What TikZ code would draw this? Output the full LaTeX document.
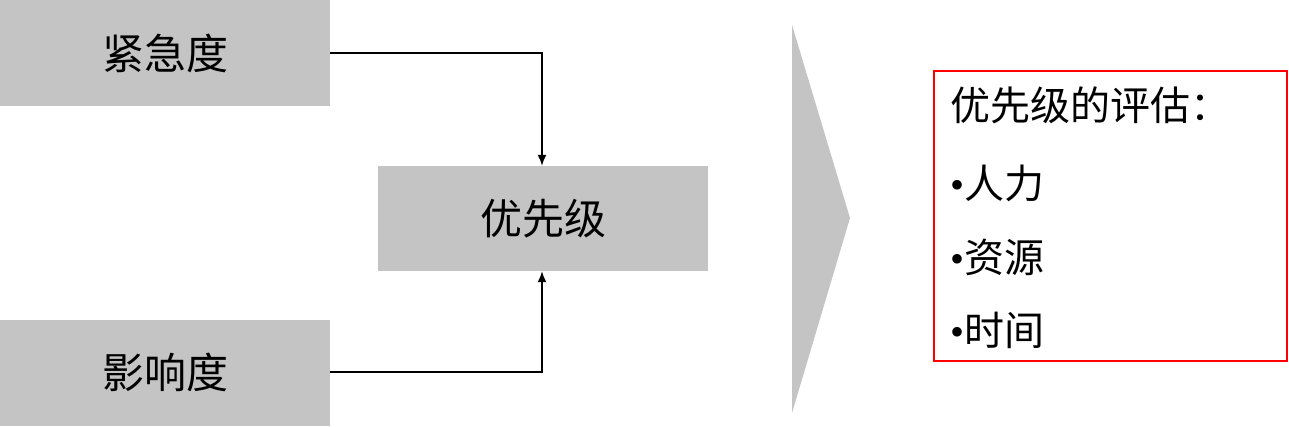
\documentclass[tikz,border=0pt]{standalone}
\usepackage{fontspec}
\setmainfont{Liberation Serif}
\newfontfamily\cjk{Noto Sans CJK SC}
\usetikzlibrary{arrows.meta}
\definecolor{boxgray}{RGB}{196,196,196}
\tikzset{
  graybox/.style={fill=boxgray, draw=none, inner sep=0pt, minimum width=330pt, minimum height=106pt, font=\cjk\fontsize{42}{44}\selectfont},
  conn/.style={draw=black, line width=1.6pt, -{Latex[length=11pt,width=9pt]}},
  listtext/.style={anchor=west, inner sep=0pt, font=\fontsize{40}{42}\selectfont},
}
\begin{document}
\begin{tikzpicture}[x=1pt,y=-1pt]
\useasboundingbox (0,0) rectangle (1289,426);
\node[graybox] (urg) at (165,53) {紧急度};
\node[graybox] (imp) at (165,372.5) {影响度};
\node[graybox, minimum height=105pt] (pri) at (543,218.5) {优先级};
\coordinate (c1) at (542,53);
\coordinate (c2) at (542,372);
\draw[conn] (urg.east |- c1) -- (c1) -- (c1 |- pri.north);
\draw[conn] (imp.east |- c2) -- (c2) -- (c2 |- pri.south);
\fill[boxgray] (792,25) -- (850,218) -- (792,413) -- cycle;
\node[draw=red, line width=1.6pt, minimum width=353pt, minimum height=290pt, inner sep=0pt] (eval) at (1110.5,216) {};
\node[listtext] (t0) at (950,105) {\cjk 优先级的评估：};
\node[listtext] (t1) at (950,183) {•\cjk 人力};
\node[listtext] (t2) at (950,257) {•\cjk 资源};
\node[listtext] (t3) at (950,330) {•\cjk 时间};
\end{tikzpicture}
\end{document}
